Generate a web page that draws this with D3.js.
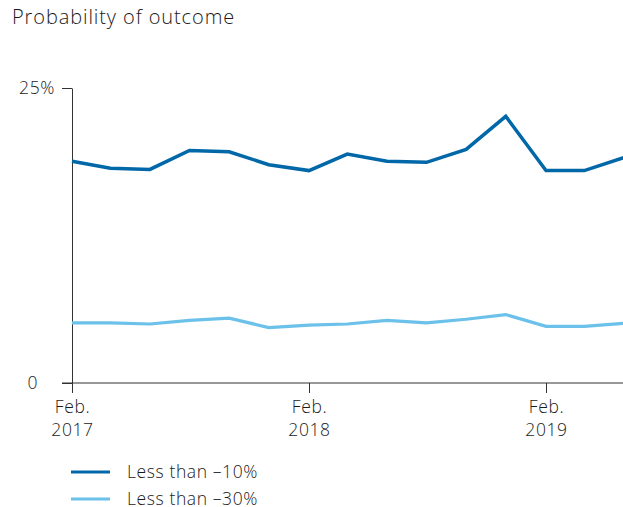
<!DOCTYPE html>
<html>
<head>
<meta charset="utf-8">
<script src="https://cdn.jsdelivr.net/npm/d3@7"></script>
<style>
  body { margin: 0; background: #fff; }
  svg { display: block; font-family: "Open Sans", sans-serif; font-weight: 300; }
  text { fill: #1a1a1a; }
</style>
</head>
<body>
<script>
// bimonthly readings, Feb 2017 .. Jun 2019
const months = ["2017-02", "2017-04", "2017-06", "2017-08", "2017-10", "2017-12",
                "2018-02", "2018-04", "2018-06", "2018-08", "2018-10", "2018-12",
                "2019-02", "2019-04", "2019-06"];
const lessThan10 = [18.8, 18.2, 18.1, 19.7, 19.6, 18.5, 18.0, 19.4, 18.8, 18.7, 19.8, 22.6, 18.0, 18.0, 19.1];
const lessThan30 = [5.1, 5.1, 5.0, 5.3, 5.5, 4.7, 4.9, 5.0, 5.3, 5.1, 5.4, 5.8, 4.8, 4.8, 5.05];
const yTicks = [0, 25];
const xTicks = ["2017-02", "2018-02", "2019-02"];

const seriesNames = ["Less than \u201310%", "Less than \u201330%"];
const colors = ["#0067a8", "#6bc1e9"];

const width = 623, height = 507;
const parse = d3.timeParse("%Y-%m");

const x = d3.scaleTime()
    .domain([parse("2017-02"), parse("2019-02")])
    .range([72, 546]);

const y = d3.scaleLinear()
    .domain([0, 25])
    .range([383, 88]);

const svg = d3.select('body').append('svg')
    .attr('width', width)
    .attr('height', height);

svg.append('text')
    .attr('x', 12)
    .attr('y', 24)
    .style('font-size', '20px')
    .style('letter-spacing', '0.9px')
    .text('Probability of outcome');

// y axis
const yAxis = svg.append('g')
    .attr('transform', `translate(${x.range()[0]},0)`)
    .call(d3.axisLeft(y).tickValues(yTicks).tickSize(10).tickSizeOuter(0)
        .tickFormat(d => d === 0 ? '0' : d + '%'));
yAxis.select('.domain').attr('stroke', '#333');
yAxis.selectAll('.tick line').attr('stroke', '#333');
yAxis.selectAll('.tick text')
    .attr('x', d => d === 0 ? -34 : -17)
    .style('font-size', '17.5px')
    .style('letter-spacing', '0.6px')
    .style('font-family', '"Open Sans", sans-serif')
    .attr('fill', '#1a1a1a');

// x axis
const xAxis = svg.append('g')
    .attr('transform', `translate(0,${y(0)})`)
    .call(d3.axisBottom(x).tickValues(xTicks.map(parse)).tickSize(10).tickSizeOuter(0)
        .tickFormat(''));
xAxis.select('.domain').remove();
xAxis.selectAll('.tick line').attr('stroke', '#333');
xAxis.append('line')
    .attr('x1', 62).attr('x2', width)
    .attr('stroke', '#333');

xAxis.selectAll('.tick').each(function(d) {
    const t = d3.select(this).append('text')
        .attr('text-anchor', 'middle')
        .attr('fill', '#1a1a1a')
        .style('font-size', '17.5px')
        .style('letter-spacing', '0.6px')
        .style('font-family', '"Open Sans", sans-serif');
    t.append('tspan').attr('x', 0).attr('y', 30).text('Feb.');
    t.append('tspan').attr('x', 0).attr('y', 53).text(d3.timeFormat('%Y')(d));
});

// lines
const line = d3.line()
    .x((d, i) => x(parse(months[i])))
    .y(d => y(d));

[lessThan10, lessThan30].forEach((vals, i) => {
    svg.append('path')
        .datum(vals)
        .attr('fill', 'none')
        .attr('stroke', colors[i])
        .attr('stroke-width', i === 0 ? 3.5 : 3.2)
        .attr('stroke-linejoin', 'miter')
        .attr('d', line);
});

// legend
const legend = svg.append('g');
seriesNames.forEach((name, i) => {
    const ly = 472 + i * 27;
    legend.append('line')
        .attr('x1', 71).attr('x2', 110)
        .attr('y1', ly).attr('y2', ly)
        .attr('stroke', colors[i])
        .attr('stroke-width', 3);
    legend.append('text')
        .attr('x', 127)
        .attr('y', ly)
        .attr('dy', '0.35em')
        .style('font-size', '17.5px')
        .style('letter-spacing', '0.6px')
        .text(name);
});
</script>
</body>
</html>
